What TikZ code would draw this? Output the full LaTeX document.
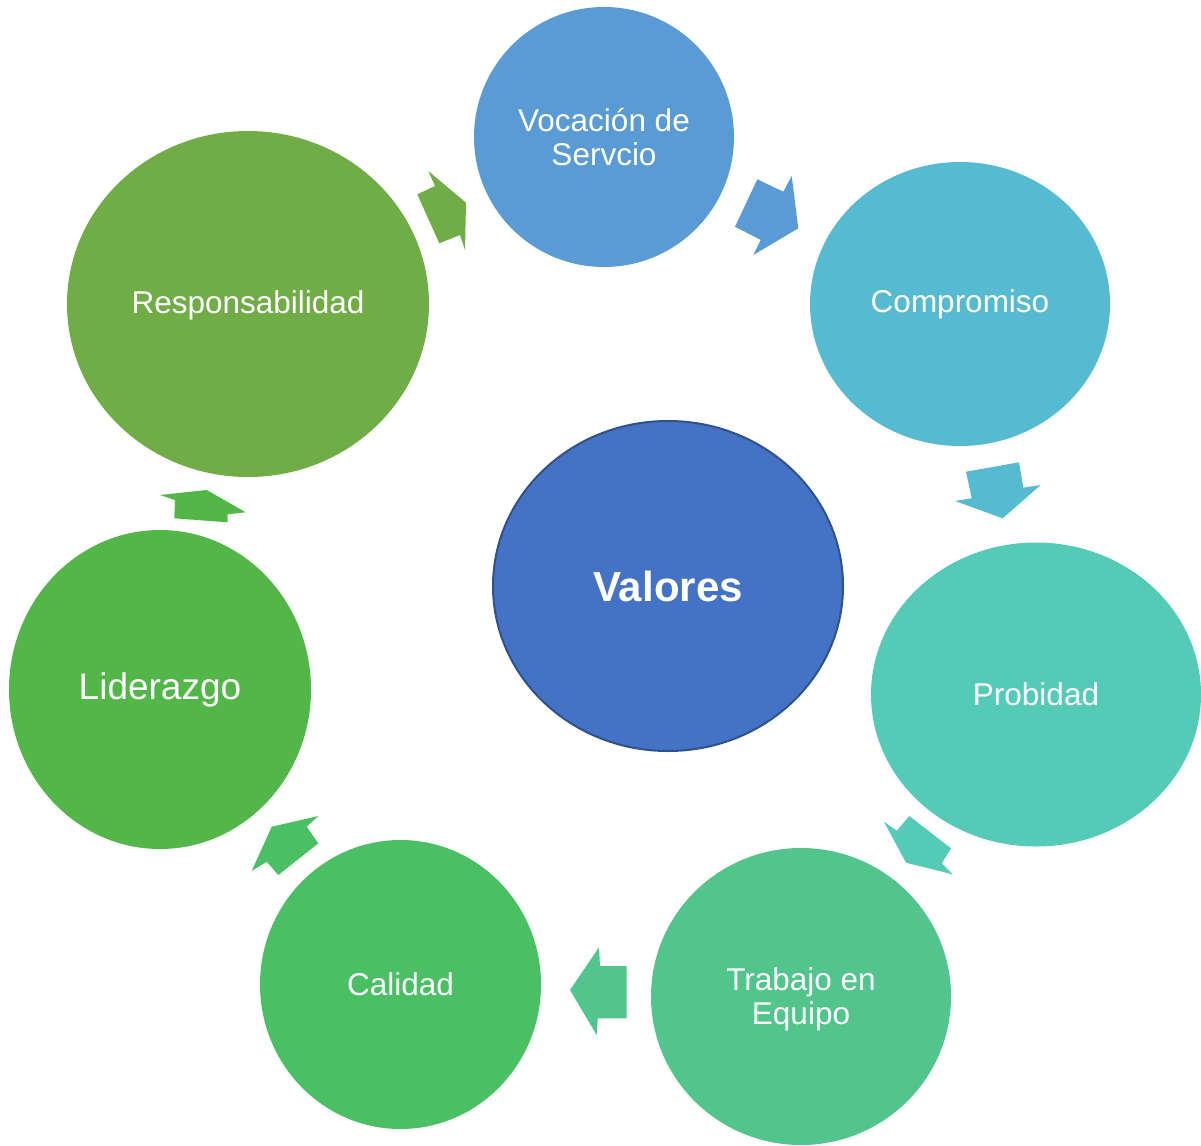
\documentclass[tikz,border=0pt]{standalone}
\usepackage{fontspec}
\setmainfont{Liberation Sans}
\usetikzlibrary{shapes.geometric}
\definecolor{cV}{HTML}{5B9BD5}
\definecolor{cC}{HTML}{56BBD1}
\definecolor{cP}{HTML}{55CAB7}
\definecolor{cT}{HTML}{51C58C}
\definecolor{cCa}{HTML}{4BBF63}
\definecolor{cL}{HTML}{52B748}
\definecolor{cR}{HTML}{70AD47}
\definecolor{cVal}{HTML}{4472C4}
\definecolor{cValB}{HTML}{2F528F}
\tikzset{
  bubble/.style={ellipse, inner sep=0pt, draw=none, text=white, align=center,
    font=\fontsize{31.5}{33.5}\selectfont},
  blockarrow/.style={draw=none}
}
\begin{document}
\begin{tikzpicture}[x=1pt,y=-1pt]
\useasboundingbox (0,0) rectangle (1201,1145);
% circles
\node[bubble, fill=cV, minimum width=260pt, minimum height=260pt] (voc) at (604,137) {Vocación de\\Servcio};
\node[bubble, fill=cC, minimum width=300pt, minimum height=284pt] (com) at (960,304) {Compromiso};
\node[bubble, fill=cP, minimum width=330pt, minimum height=304pt] (pro) at (1036,694.5) {Probidad};
\node[bubble, fill=cT, minimum width=300pt, minimum height=297pt] (tra) at (801,996.5) {};
\node[text=white, align=center, font=\fontsize{31.5}{33.5}\selectfont] (tratxt) at (801,999.5) {Trabajo en\\Equipo};
\node[bubble, fill=cCa, minimum width=281pt, minimum height=289pt] (cal) at (400.5,984.5) {Calidad};
\node[bubble, fill=cL, minimum width=302pt, minimum height=319pt, font=\fontsize{37}{40}\selectfont] (lid) at (160,689.5) {Liderazgo};
\node[bubble, fill=cR, minimum width=362pt, minimum height=346pt] (res) at (248,304) {};
\node[text=white, font=\fontsize{31.5}{33.5}\selectfont] (restxt) at (248,305.5) {Responsabilidad};
\node[bubble, fill=cVal, draw=cValB, line width=2pt, minimum width=350pt, minimum height=330pt, font=\fontsize{42}{44}\selectfont\bfseries] (val) at (668,586) {Valores};
% block arrows
\fill[blockarrow, cR] (428.3,171) -- (435,186) -- (417.3,194.3) -- (439.3,243.3) -- (460,235) -- (465,250) -- (466,202.7) -- cycle;
\fill[blockarrow, cV] (757.3,179.3) -- (783.3,191.7) -- (791.7,176) -- (798.3,228.3) -- (753.3,255) -- (760.7,240) -- (735,226.7) -- cycle;
\fill[blockarrow, cC] (966,471.7) -- (1019,462.3) -- (1023.3,487.7) -- (1040.7,485) -- (1002.7,518.3) -- (955,501) -- (971.7,498.3) -- cycle;
\fill[blockarrow, cP] (909.3,816) -- (951,848.3) -- (941.7,863.3) -- (952.7,874.3) -- (906,862.7) -- (884,821.7) -- (896.7,830.7) -- cycle;
\fill[blockarrow, cT] (626.7,966) -- (600,966) -- (599,947.3) -- (570,990) -- (596.7,1035) -- (597.7,1018.3) -- (626.7,1018.3) -- cycle;
\fill[blockarrow, cCa] (318.3,816) -- (306.7,826.7) -- (318.3,843.3) -- (278.3,875) -- (266.7,861.7) -- (251.7,871) -- (271.7,826.7) -- cycle;
\fill[blockarrow, cL] (160,495) -- (175,500) -- (174.3,518.3) -- (227.7,522.3) -- (227.7,514.3) -- (245.7,512.3) -- (206.7,490) -- cycle;
\end{tikzpicture}
\end{document}
